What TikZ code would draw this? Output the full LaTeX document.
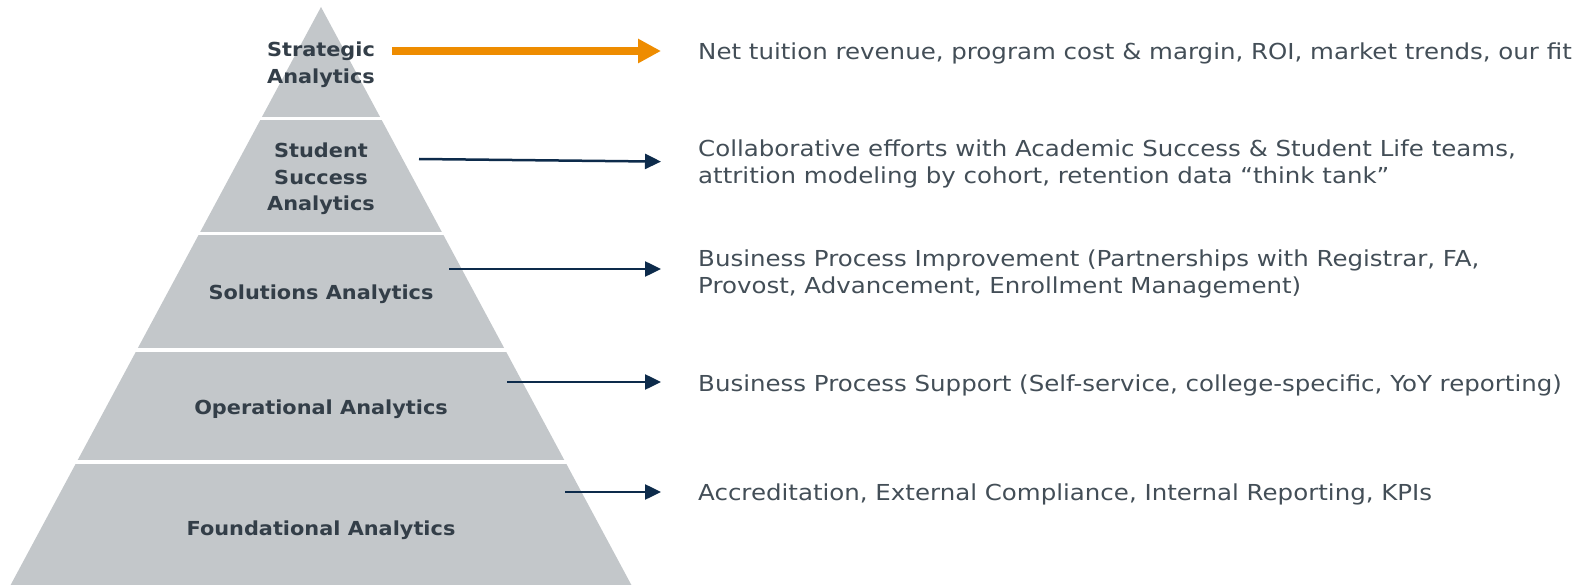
\documentclass[tikz,border=0pt]{standalone}
\usepackage{fontspec}
\setmainfont{DejaVu Sans}
\newfontfamily\tierfont{DejaVu Sans Bold}[FakeStretch=1.08]
\newfontfamily\descfont{DejaVu Sans}[FakeStretch=1.113]
\usetikzlibrary{arrows.meta}

\definecolor{tiergray}{HTML}{C3C7CA}
\definecolor{slate}{HTML}{333E48}
\definecolor{accent}{HTML}{EE8C00}
\definecolor{navy}{HTML}{0D2B4B}

\begin{document}
\begin{tikzpicture}[
    x=1pt, y=-1pt,
    tier/.style={
        font=\tierfont\fontsize{19.3}{26.5}\selectfont,
        text=slate,
        align=center,
        inner sep=0pt
    },
    desc/.style={
        font=\descfont\fontsize{22}{27.5}\selectfont,
        text=slate!92,
        align=left,
        anchor=west,
        inner sep=0pt
    },
    link/.style={draw=navy, line width=2.5pt, -{Triangle[length=16pt,width=15pt]}, shorten >=37pt},
    toplink/.style={draw=accent, line width=8pt, -{Triangle[length=23pt,width=23pt]}, shorten >=37pt}
]
\useasboundingbox (0,0) rectangle (1590,585);

% pyramid, cut into five bands with thin white gaps
\begin{scope}
    \clip (321,7) -- (10.6,585) -- (631.4,585) -- cycle;
    \foreach \ytop/\ybot in {0/117, 120.5/231.8, 235.3/348, 351.5/460, 464/590}
        \fill[tiergray] (0,\ytop) rectangle (640,\ybot);
\end{scope}

% tier labels
\node[tier] (strategic) at (321,65) {Strategic\\Analytics};
\node[tier] (student) at (321,179) {Student\\Success\\Analytics};
\node[tier] (solutions) at (321,294) {Solutions Analytics};
\node[tier] (operational) at (321,409) {Operational Analytics};
\node[tier] (foundational) at (321,530) {Foundational Analytics};

% descriptions
\node[desc] (strategicdesc) at (698,53) {Net tuition revenue, program cost \& margin, ROI, market trends, our fit};
\node[desc] (studentdesc) at (698,164) {Collaborative efforts with Academic Success \& Student Life teams,\\attrition modeling by cohort, retention data “think tank”};
\node[desc] (solutionsdesc) at (698,274) {Business Process Improvement (Partnerships with Registrar, FA,\\Provost, Advancement, Enrollment Management)};
\node[desc] (operationaldesc) at (698,385) {Business Process Support (Self-service, college-specific, YoY reporting)};
\node[desc] (foundationaldesc) at (698,494) {Accreditation, External Compliance, Internal Reporting, KPIs};

% arrow tails inside the pyramid
\coordinate (strategicout) at (392,51);
\coordinate (studentout) at (419,159);
\coordinate (solutionsout) at (449,269);
\coordinate (operationalout) at (507,382);
\coordinate (foundationalout) at (565,492);

\draw[toplink] (strategicout) -- ([yshift=2pt]strategicdesc.west);
\draw[link] (studentout) -- ([yshift=2pt]studentdesc.west);
\draw[link] (solutionsout) -- ([yshift=5pt]solutionsdesc.west);
\draw[link] (operationalout) -- ([yshift=3pt]operationaldesc.west);
\draw[link] (foundationalout) -- ([yshift=2pt]foundationaldesc.west);

\end{tikzpicture}
\end{document}
